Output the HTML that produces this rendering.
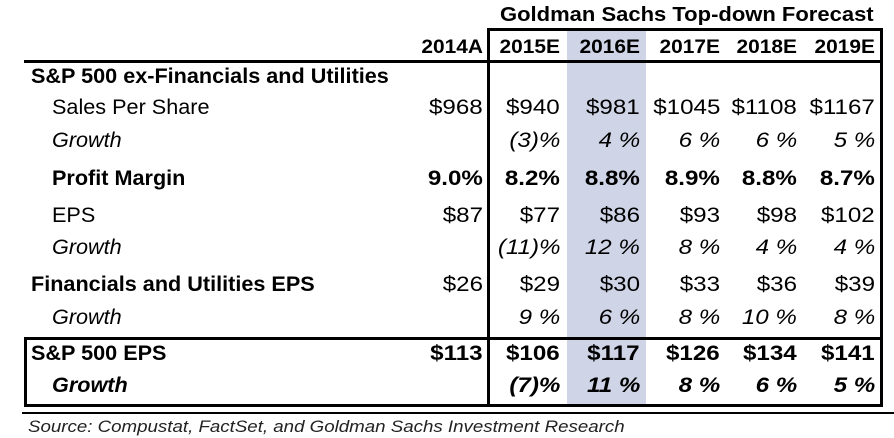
<!DOCTYPE html>
<html><head><meta charset="utf-8"><style>
body{margin:0;width:894px;height:438px;background:#fff;position:relative;overflow:hidden;font-family:"Liberation Sans",Arial,sans-serif;color:#000}
.a{position:absolute;white-space:nowrap;line-height:1}
.r{text-align:right;transform:scaleX(1.15);transform-origin:right center}
.h{transform:scaleX(1.1)}
.l{transform:scaleX(1.03);transform-origin:left center}
.b{font-weight:bold}
.i{font-style:italic}
.ln{position:absolute;background:#000}
.t{font-size:21px}
</style></head><body>
<div class="a" style="left:567px;top:30px;width:79px;height:376px;background:#cfd5e6"></div>
<div class="a b" style="left:500px;top:5px;font-size:20px;transform:scaleX(1.1);transform-origin:left center">Goldman Sachs Top-down Forecast</div>
<div class="ln" style="left:487px;top:28px;width:396px;height:3px"></div>
<div class="ln" style="left:487px;top:28px;width:3px;height:379px"></div>
<div class="ln" style="left:880px;top:28px;width:3px;height:379px"></div>
<div class="ln" style="left:24px;top:60px;width:859px;height:3px"></div>
<div class="ln" style="left:24px;top:337px;width:859px;height:3px"></div>
<div class="ln" style="left:24px;top:404px;width:859px;height:3px"></div>
<div class="ln" style="left:24px;top:337px;width:3px;height:70px"></div>
<div class="ln" style="left:22px;top:412px;width:872px;height:2px"></div>
<div id="tbl"></div>
<div class="a i" style="left:28px;top:418px;font-size:17px;color:#222;transform:scaleX(1.1);transform-origin:left center">Source: Compustat, FactSet, and Goldman Sachs Investment Research</div>
<script>
const years=["2014A","2015E","2016E","2017E","2018E","2019E"];
const rowLabels=["S&P 500 ex-Financials and Utilities","Sales Per Share","Growth","Profit Margin","EPS","Growth","Financials and Utilities EPS","Growth","S&P 500 EPS","Growth"];
const rowValues=[
["","","","","",""],
["$968","$940","$981","$1045","$1108","$1167"],
["","(3)%","4 %","6 %","6 %","5 %"],
["9.0%","8.2%","8.8%","8.9%","8.8%","8.7%"],
["$87","$77","$86","$93","$98","$102"],
["","(11)%","12 %","8 %","4 %","4 %"],
["$26","$29","$30","$33","$36","$39"],
["","9 %","6 %","8 %","10 %","8 %"],
["$113","$106","$117","$126","$134","$141"],
["","(7)%","11 %","8 %","6 %","5 %"]];
const rowStyle=["b","","i","b","","i","b","i","b","b i"];
const valStyle=["","","i","b","","i","","i","b","b i"];
const rowIndent=[31,52,52,52,52,52,31,52,31,52];
const rowY=[66,97,130,168,205,237,274,307,343,375];
const colRight=[483,560,640,720,797,875];
const T=document.getElementById('tbl');
function add(txt,cls,style,name){const d=document.createElement('div');d.className='a t '+cls;d.setAttribute('style',style);d.textContent=txt;


T.appendChild(d);}
years.forEach((y,c)=>add(y,'b r h','font-size:19px;right:'+(894-colRight[c])+'px;top:38px','header-'+y.toLowerCase()));
rowLabels.forEach((l,r)=>{
add(l,'l '+rowStyle[r],'left:'+rowIndent[r]+'px;top:'+rowY[r]+'px','row-label-'+r);
rowValues[r].forEach((v,c)=>{if(v)add(v,'r '+valStyle[r],'right:'+(894-colRight[c])+'px;top:'+rowY[r]+'px','cell-'+r+'-'+years[c].toLowerCase());});
});
</script>
</body></html>
